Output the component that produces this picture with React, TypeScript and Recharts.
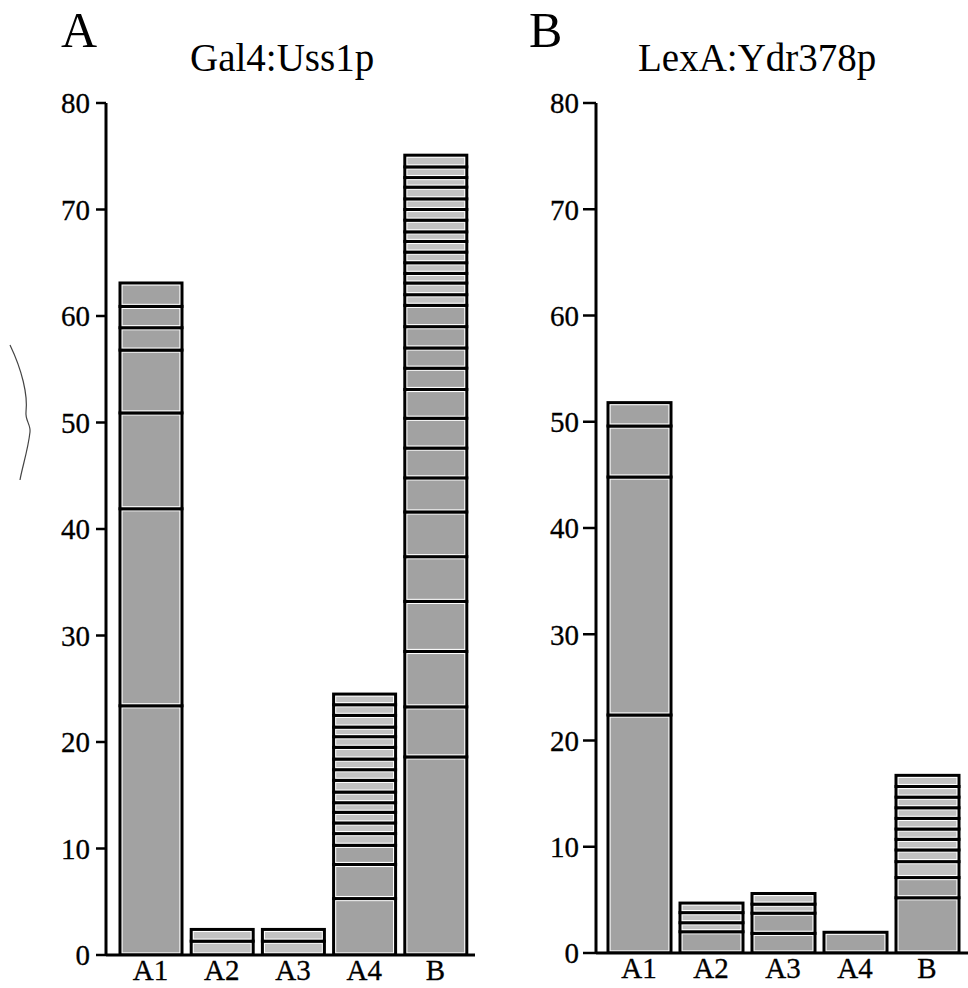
import { BarChart, Bar, XAxis, YAxis } from "recharts";

const categories = ["A1", "A2", "A3", "A4", "B"];
const yTicks = [0, 10, 20, 30, 40, 50, 60, 70, 80];

// Gal4:Uss1p — stacked segments, bottom to top
const gal4A1 = [23.4, 18.5, 9.0, 5.9, 2.1, 2.0, 2.2];
const gal4A2 = [1.3, 1.1];
const gal4A3 = [1.3, 1.1];
const gal4A4 = [5.3, 3.2, 1.8, 1.1, 1.0, 1.0, 0.9, 1.0, 1.1, 1.0, 1.0, 1.1, 1.0, 0.9, 1.1, 1.0, 1.0];
const gal4B = [
  18.6, 4.7, 5.2, 4.7, 4.2, 4.2, 3.2, 2.8, 2.8, 2.7, 2.0, 1.9, 2.0, 2.0,
  1.0, 1.1, 0.9, 1.0, 1.0, 1.0, 0.9, 1.1, 1.0, 1.0, 1.1, 0.9, 1.0, 1.1,
];

// LexA:Ydr378p
const lexA1 = [22.4, 22.4, 4.8, 2.2];
const lexA2 = [2.0, 0.85, 0.95, 0.9];
const lexA3 = [1.85, 1.9, 0.85, 1.0];
const lexA4 = [1.95];
const lexB = [5.2, 1.9, 1.5, 1.1, 1.0, 0.97, 1.0, 1.0, 1.0, 1.0, 1.05];

const FONT = "'Liberation Serif', 'Times New Roman', serif";

function buildRows(segs: number[][]) {
  return categories.map((name, i) => {
    const row: any = { name };
    segs[i].forEach((v, j) => {
      row["s" + j] = v;
    });
    return row;
  });
}

function Segment(props: any) {
  const { x, y, width, height } = props;
  if (!height || height <= 0 || !width) return null;
  const fill = height < 16 ? "#c2c2c2" : "#a2a2a2";
  const inset = 2.6;
  return (
    <g>
      <rect x={x} y={y} width={width} height={height} fill="#fff" stroke="#000" strokeWidth={3} />
      {height > inset * 2 && (
        <rect
          x={x + inset}
          y={y + inset}
          width={width - 2 * inset}
          height={height - 2 * inset}
          fill={fill}
        />
      )}
    </g>
  );
}

function YTick(props: any) {
  const { x, y, payload } = props;
  return (
    <text x={x} y={y} dy="0.36em" textAnchor="end" fontSize={29} fontFamily={FONT} fill="#000" stroke="#000" strokeWidth={0.3}>
      {payload.value}
    </text>
  );
}

function XTick(props: any) {
  const { x, y, payload } = props;
  return (
    <text x={x} y={y} dy={17} textAnchor="middle" fontSize={29} fontFamily={FONT} fill="#000" stroke="#000" strokeWidth={0.3}>
      {payload.value}
    </text>
  );
}

type PanelProps = {
  segs: number[][];
  left: number;
  width: number;
  margin: { top: number; right: number; bottom: number; left: number };
  yAxisWidth: number;
  padding: { left: number; right: number };
  barSize: number;
  tickSize: number;
  tickMargin: number;
};

function Panel({ segs, left, width, margin, yAxisWidth, padding, barSize, tickSize, tickMargin }: PanelProps) {
  const rows = buildRows(segs);
  const maxSegs = Math.max(...segs.map((s) => s.length));
  const keys = Array.from({ length: maxSegs }, (_, j) => "s" + j);
  return (
    <div style={{ position: "absolute", left, top: 0 }}>
      <BarChart width={width} height={988} data={rows} margin={margin} barSize={barSize}>
        <XAxis
          dataKey="name"
          padding={padding}
          height={30}
          tickLine={false}
          tickSize={6}
          tickMargin={2}
          axisLine={{ stroke: "#000", strokeWidth: 3 }}
          tick={<XTick />}
          interval={0}
        />
        <YAxis
          type="number"
          domain={[0, 80]}
          ticks={yTicks}
          width={yAxisWidth}
          tickSize={tickSize}
          tickMargin={tickMargin}
          axisLine={{ stroke: "#000", strokeWidth: 3 }}
          tickLine={{ stroke: "#000", strokeWidth: 2.5 }}
          tick={<YTick />}
          allowDataOverflow
        />
        {keys.map((k) => (
          <Bar key={k} dataKey={k} stackId="a" shape={<Segment />} isAnimationActive={false} />
        ))}
      </BarChart>
    </div>
  );
}

export default function App() {
  return (
    <div style={{ position: "absolute", left: 0, top: 0, width: 968, height: 988, background: "#fff" }}>
      <Panel
        segs={[gal4A1, gal4A2, gal4A3, gal4A4, gal4B]}
        left={0}
        width={480}
        margin={{ top: 103, right: 5, bottom: 3, left: 26 }}
        yAxisWidth={80}
        padding={{ left: 9, right: 4 }}
        barSize={62}
        tickSize={10}
        tickMargin={6}
      />
      <Panel
        segs={[lexA1, lexA2, lexA3, lexA4, lexB]}
        left={484}
        width={484}
        margin={{ top: 103, right: 0, bottom: 5, left: 22 }}
        yAxisWidth={90}
        padding={{ left: 7, right: 5 }}
        barSize={63}
        tickSize={13}
        tickMargin={4}
      />
      <svg
        width={968}
        height={988}
        style={{ position: "absolute", left: 0, top: 0, pointerEvents: "none" }}
      >
        <text x={61} y={47} fontSize={50} fontFamily={FONT} fill="#000">A</text>
        <text x={190} y={71} fontSize={39} fontFamily={FONT} fill="#000">Gal4:Uss1p</text>
        <text x={529} y={47} fontSize={50} fontFamily={FONT} fill="#000">B</text>
        <text x={638} y={71} fontSize={39} fontFamily={FONT} fill="#000">LexA:Ydr378p</text>
        <path
          d="M10,345 C22,370 28,395 26,412 C25,420 31,425 30,432 C28,450 22,468 20,480"
          stroke="#444"
          strokeWidth={1.2}
          fill="none"
        />
      </svg>
    </div>
  );
}
